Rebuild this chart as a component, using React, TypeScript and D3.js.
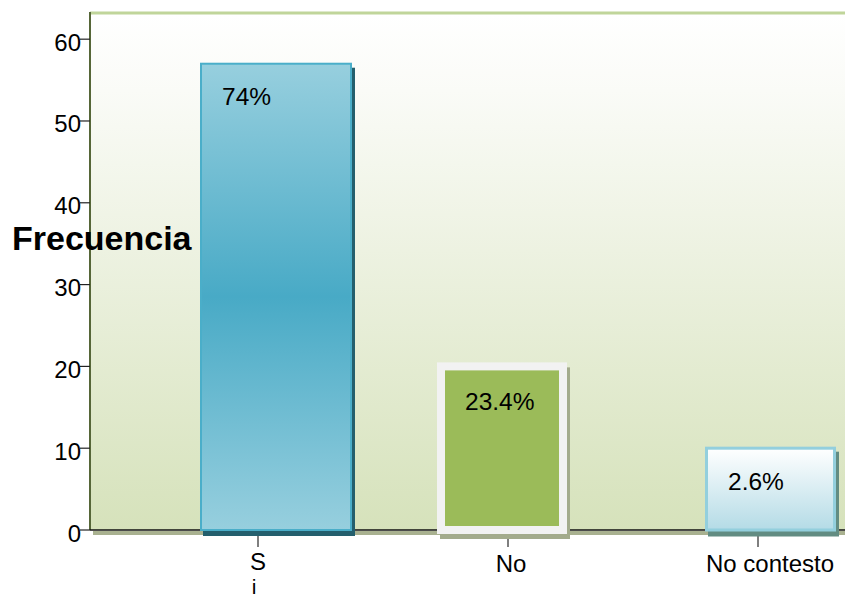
import React from 'react';
import * as d3 from 'd3';

const categories = ['Si', 'No', 'No contesto'];
const frequencies = [57, 20, 10];
const percentLabels = ['74%', '23.4%', '2.6%'];
const tickLabelLines = [['S', 'i'], ['No'], ['No contesto']];
const yTicks = [0, 10, 20, 30, 40, 50, 60];
const yAxisTitle = 'Frecuencia';

const W = 845;
const H = 599;
const plotLeft = 90;
const plotTop = 13;
const plotBottom = 530;
const FONT = '"Liberation Sans", Arial, sans-serif';

const barStyles = [
  { dx: -57, width: 150, fill: 'url(#gSi)', stroke: '#4aaec9', sw: 2, shadow: '#245f6d', labelDx: 0 },
  { dx: -67, width: 122, fill: '#9bbb59', stroke: '#f2f2f2', sw: 8, shadow: '#a3ab8c', labelDx: 3 },
  { dx: -51.5, width: 128, fill: 'url(#gNc)', stroke: '#93cfdd', sw: 3, shadow: '#628c82', labelDx: 12 },
];

export default function App() {
  const y = d3.scaleLinear().domain([0, 63.2]).range([plotBottom, plotTop]);
  const x = d3.scalePoint<string>().domain(categories).range([258, 758]);

  return (
    <svg width={W} height={H} style={{ position: 'fixed', left: 0, top: 0, display: 'block', background: '#fff' }} fontFamily={FONT}>
      <defs>
        <linearGradient id="gBg" x1="0" y1="0" x2="0" y2="1">
          <stop offset="0" stopColor="#ffffff" />
          <stop offset="0.15" stopColor="#fafbf7" />
          <stop offset="1" stopColor="#d6e2bb" />
        </linearGradient>
        <linearGradient id="gSi" x1="0" y1="0" x2="0" y2="1">
          <stop offset="0" stopColor="#97cfde" />
          <stop offset="0.5" stopColor="#48aac6" />
          <stop offset="1" stopColor="#97cfde" />
        </linearGradient>
        <linearGradient id="gNc" x1="0" y1="0" x2="0" y2="1">
          <stop offset="0" stopColor="#ffffff" />
          <stop offset="1" stopColor="#b4dbe6" />
        </linearGradient>
      </defs>

      {/* plot background */}
      <rect x={plotLeft} y={plotTop} width={W - plotLeft} height={plotBottom - plotTop} fill="url(#gBg)" />
      <line x1={plotLeft} x2={W} y1={plotTop} y2={plotTop} stroke="#c0d59a" strokeWidth={3} />

      {/* axis shadow */}
      <rect x={93} y={plotBottom + 1} width={W - 93} height={4} fill="#a9b190" />

      {/* y axis */}
      <line x1={plotLeft} x2={plotLeft} y1={plotTop - 1} y2={plotBottom} stroke="#566638" strokeWidth={2} />
      {yTicks.map((t) => (
        <g key={t}>
          <line x1={80} x2={plotLeft} y1={y(t)} y2={y(t)} stroke="#222" strokeWidth={1.2} />
          <text x={81} y={y(t) + 11.5} textAnchor="end" fontSize={24} fill="#000">{t}</text>
        </g>
      ))}

      {/* x axis line */}
      <line x1={plotLeft} x2={W} y1={plotBottom} y2={plotBottom} stroke="#111" strokeWidth={1.3} />

      {/* x ticks and labels */}
      {categories.map((c, i) => (
        <g key={c}>
          <line x1={x(c)} x2={x(c)} y1={plotBottom + 5} y2={plotBottom + 17} stroke="#555" strokeWidth={1.5} />
          {tickLabelLines[i].map((ln, j) => (
            <text
              key={j}
              x={(x(c) as number) + barStyles[i].labelDx - (j > 0 ? 4 : 0)}
              y={tickLabelLines[i].length > 1 ? (j === 0 ? 570 : 594) : 572}
              textAnchor="middle"
              fontSize={j > 0 ? 21 : 24}
              fill="#000"
            >
              {ln}
            </text>
          ))}
        </g>
      ))}

      {/* bars */}
      {categories.map((c, i) => {
        const s = barStyles[i];
        const bx = (x(c) as number) + s.dx;
        const by = y(frequencies[i]);
        const bh = y(0) - by;
        return (
          <g key={c}>
            <rect x={bx - s.sw / 2 + 3} y={by - s.sw / 2 + 5} width={s.width + s.sw} height={bh + s.sw} fill={s.shadow} />
            <rect x={bx} y={by} width={s.width} height={bh} fill={s.fill} stroke={s.stroke} strokeWidth={s.sw} />
            <text x={bx + s.sw / 2 + 20} y={by + s.sw / 2 + 40} fontSize={24.5} fill="#000">{percentLabels[i]}</text>
          </g>
        );
      })}

      {/* y axis title */}
      <text x={12} y={250} fontSize={34} fontWeight="bold" fill="#000">{yAxisTitle}</text>
    </svg>
  );
}
